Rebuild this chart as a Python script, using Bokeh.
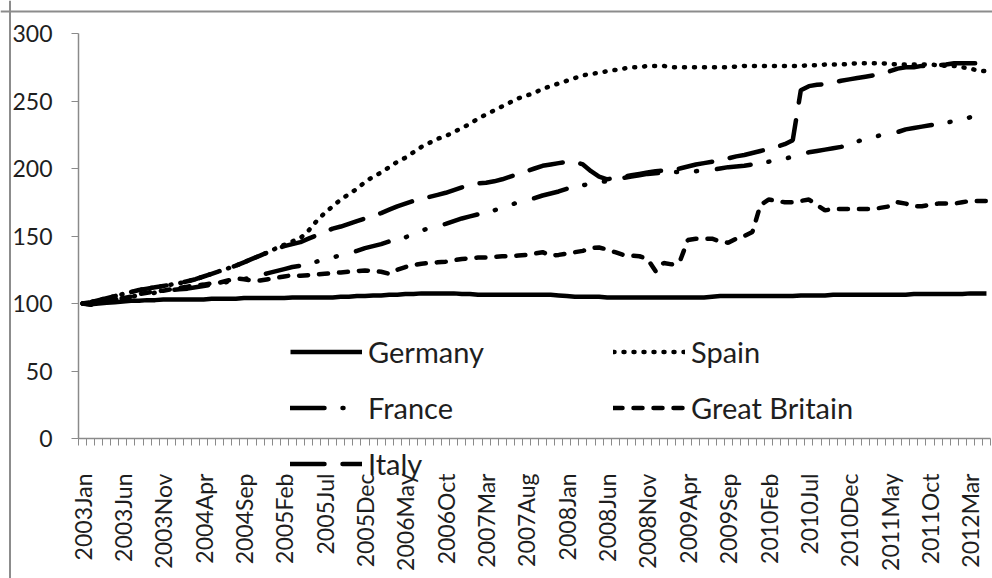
import math
from bokeh.plotting import figure
from bokeh.models import Range1d, FixedTicker, Legend, LegendItem, Span
from bokeh.embed import file_html
from bokeh.resources import INLINE

month_names = ["Jan", "Feb", "Mar", "Apr", "May", "Jun",
               "Jul", "Aug", "Sep", "Oct", "Nov", "Dec"]
months = [f"{2003 + k // 12}{month_names[k % 12]}" for k in range(113)]  # 2003Jan .. 2012May

tick_labels = ["2003Jan", "2003Jun", "2003Nov", "2004Apr", "2004Sep", "2005Feb",
               "2005Jul", "2005Dec", "2006May", "2006Oct", "2007Mar", "2007Aug",
               "2008Jan", "2008Jun", "2008Nov", "2009Apr", "2009Sep", "2010Feb",
               "2010Jul", "2010Dec", "2011May", "2011Oct", "2012Mar"]

germany = [100, 99.5, 100, 100.5, 101, 101.5, 102, 102, 102.5, 102.5,
           103, 103, 103, 103, 103, 103, 103.5, 103.5, 103.5, 103.5,
           104, 104, 104, 104, 104, 104, 104.5, 104.5, 104.5, 104.5,
           104.5, 104.5, 105, 105, 105.5, 105.5, 106, 106, 106.5, 106.5,
           107, 107, 107.5, 107.5, 107.5, 107.5, 107.5, 107, 107, 106.5,
           106.5, 106.5, 106.5, 106.5, 106.5, 106.5, 106.5, 106.5, 106.5, 106,
           105.5, 105, 105, 105, 105, 104.5, 104.5, 104.5, 104.5, 104.5,
           104.5, 104.5, 104.5, 104.5, 104.5, 104.5, 104.5, 104.5, 105, 105.5,
           105.5, 105.5, 105.5, 105.5, 105.5, 105.5, 105.5, 105.5, 105.5, 106,
           106, 106, 106, 106.5, 106.5, 106.5, 106.5, 106.5, 106.5, 106.5,
           106.5, 106.5, 106.5, 107, 107, 107, 107, 107, 107, 107,
           107.5, 107.5, 107.5]

spain = [100, 101, 102.5, 104, 105.5, 107, 108.5, 110, 111, 112,
         113, 114, 115, 116.5, 118, 120, 122, 124, 126, 128,
         130.5, 133, 135.5, 138, 141, 143.5, 146, 148.5, 154, 161,
         167, 172, 177, 181, 185, 190, 194, 197, 201, 205,
         208, 212, 216, 219, 222, 224, 227, 230, 233, 237,
         240, 243, 246, 249, 252, 254, 256, 259, 261, 263,
         265, 267, 269, 270, 271, 272, 273, 274, 275, 275,
         276, 276, 276, 275, 275, 275, 275, 275, 275, 275,
         275, 275.5, 276, 276, 276, 276, 276, 276, 276, 276,
         276.5, 276.5, 277, 277, 277, 277.5, 278, 278, 278, 278,
         277.5, 277, 277, 277, 277, 277, 276.5, 276, 276, 275,
         274, 272.5, 272]

france = [100, 100, 101, 102, 103, 104, 105, 106, 107, 108,
          109, 110, 110.5, 111, 112, 113, 114, 115, 116, 117,
          118, 119.5, 121, 122.5, 124, 125.5, 127, 128, 129.5, 131,
          133, 134, 136, 137, 139, 141, 142.5, 144, 146, 147.5,
          149, 151.5, 154, 156, 157.5, 159, 161, 163, 164.5, 166,
          167.5, 169, 171, 173, 175, 177, 178, 180, 181.5, 183,
          185, 186.5, 187.5, 189, 190, 190.5, 192, 193, 194, 195,
          196, 196.5, 197, 197.5, 197.5, 198, 198, 198.5, 199, 200,
          201, 201.5, 202, 203, 204, 205, 206, 207, 209, 211,
          212, 213, 214, 215, 216, 218, 220, 222, 223, 225,
          226, 227, 229, 230, 231, 232, 233, 234, 235, 236,
          238, 238, 239]

great_britain = [100, 99, 100, 102, 103, 104, 105, 107, 108, 109,
                 109.5, 110.5, 111.5, 112.5, 113.5, 114, 115, 115.5, 117, 118.5,
                 118, 117, 117, 118, 119, 120, 121, 120.5, 121, 121.5,
                 122, 122.5, 123, 123.5, 124, 124.5, 124, 123.5, 122, 125,
                 127, 128.5, 129.5, 130, 130.5, 131, 132, 133, 133.5, 134,
                 134, 134.5, 135, 135, 135.5, 136, 137, 138, 135.5, 136,
                 137, 138, 139, 141, 141.5, 140, 138, 136, 135.5, 135,
                 133, 124, 130, 129, 131, 147, 148, 148, 148, 146,
                 145, 148, 150, 153, 173, 177, 176, 175, 175, 176,
                 177, 173, 169, 170, 170, 170, 170, 170, 170, 171,
                 172, 175, 174, 172, 172, 173, 174, 174, 174, 175,
                 176, 176, 176]

italy = [100, 101, 102.5, 104, 105.5, 107, 108.5, 110, 111, 112,
         113, 114, 115, 116.5, 118, 120, 122, 124, 126, 128,
         130.5, 133, 135.5, 138, 140.5, 142.5, 144, 145.5, 148, 150.5,
         153, 155.5, 157, 159, 161, 163, 165, 167, 169.5, 172,
         174, 176, 177.5, 179, 180.5, 182, 184, 186, 187.5, 189,
         189.5, 190.5, 192, 194, 196, 198, 200, 202, 203, 204,
         205, 205, 203, 198, 194, 192, 193, 194, 195, 196,
         197, 198, 198.5, 199, 200, 201.5, 203, 204, 205, 206,
         207.5, 209, 210, 211.5, 213, 214.5, 216, 218, 221, 258,
         261, 262, 262.5, 263.5, 265, 266, 267, 268, 269, 270,
         272, 274, 275, 275, 276, 276, 276.5, 277, 278, 278,
         278, 278, 278]

y_ticks = [0, 50, 100, 150, 200, 250, 300]

FONT = "Lato"
TEXT = "#1e1e1e"
AXIS = "#8a8a8a"

n = len(months)
xs = list(range(n))

# layout geometry (picture pixels): the frame covers the whole canvas
W, H = 992, 578
AX_L, AX_R = 78, 990      # plot area x extent
Y300, Y0 = 33, 438        # plot area y extent
ppx = (AX_R - AX_L) / n
ppy = (Y0 - Y300) / 300.0
x0 = -0.5 - AX_L / ppx
x1 = n - 0.5 + (W - AX_R) / ppx
y1 = 300 + Y300 / ppy
y0 = -(H - Y0) / ppy

p = figure(width=W, height=H, output_backend="svg", toolbar_location=None,
           x_range=Range1d(x0, x1), y_range=Range1d(y0, y1),
           min_border_left=0, min_border_right=0, min_border_top=0,
           min_border_bottom=0, background_fill_color="white",
           border_fill_color="white")
p.outline_line_color = None
p.xgrid.visible = False
p.ygrid.visible = False

# outer chart border (top and left only, the rest is cropped in the reference)
p.add_layout(Span(location=y1 - 11 / ppy, dimension="width",
                  line_color="#8c8c8c", line_width=2))
p.add_layout(Span(location=x0 + 9.5 / ppx, dimension="height",
                  line_color="#8c8c8c", line_width=2))

# x axis drawn at y = 0 inside the frame
p.xaxis.fixed_location = 0
p.xaxis.bounds = (-0.5, n - 0.5)
p.xaxis.ticker = FixedTicker(ticks=list(range(0, n, 5)),
                             minor_ticks=[k - 0.5 for k in range(n + 1)])
p.xaxis.major_label_overrides = {i * 5: lab for i, lab in enumerate(tick_labels)}
p.xaxis.major_label_orientation = math.pi / 2
p.xaxis.major_tick_out = 0
p.xaxis.major_tick_in = 0
p.xaxis.minor_tick_out = 7
p.xaxis.minor_tick_in = 0
p.xaxis.major_label_standoff = 28
p.xaxis.major_label_text_font = FONT
p.xaxis.major_label_text_font_size = "23px"
p.xaxis.major_label_text_color = TEXT

# y axis drawn at the left edge of the plot area
p.yaxis.fixed_location = -0.5
p.yaxis.bounds = (0, 300)
p.yaxis.ticker = FixedTicker(ticks=y_ticks)
p.yaxis.major_tick_out = 7
p.yaxis.major_tick_in = 0
p.yaxis.minor_tick_out = 0
p.yaxis.minor_tick_in = 0
p.yaxis.major_label_standoff = 19
p.yaxis.major_label_text_font = FONT
p.yaxis.major_label_text_font_size = "23px"
p.yaxis.major_label_text_color = TEXT

for ax in (p.xaxis, p.yaxis):
    ax.axis_line_color = AXIS
    ax.axis_line_width = 1.5
    ax.major_tick_line_color = AXIS
    ax.minor_tick_line_color = AXIS

r_de = p.line(xs, germany, line_color="black", line_width=4.5)
r_es = p.line(xs, spain, line_color="black", line_width=4.5, line_dash="1 9",
              line_cap="round")
r_fr = p.line(xs, france, line_color="black", line_width=4.5,
              line_dash="34 18 1 19 1 20", line_cap="round")
r_gb = p.line(xs, great_britain, line_color="black", line_width=4.5,
              line_dash="9 11", line_cap="round")
r_it = p.line(xs, italy, line_color="black", line_width=4.5, line_dash="34 18",
              line_cap="round")


def make_legend(items, loc):
    leg = Legend(items=items, location=loc, orientation="vertical")
    leg.label_text_font = FONT
    leg.label_text_font_size = "29px"
    leg.label_text_color = TEXT
    leg.glyph_width = 72
    leg.glyph_height = 37
    leg.label_height = 37
    leg.label_standoff = 6
    leg.spacing = 19
    leg.padding = 0
    leg.margin = 0
    leg.border_line_color = None
    leg.background_fill_alpha = 0
    return leg


# legend rows centred at y = 352, 408, 462
leg1 = make_legend([LegendItem(label="Germany", renderers=[r_de]),
                    LegendItem(label="France", renderers=[r_fr]),
                    LegendItem(label="Italy", renderers=[r_it])],
                   (290, H - 482))
leg2 = make_legend([LegendItem(label="Spain", renderers=[r_es]),
                    LegendItem(label="Great Britain", renderers=[r_gb])],
                   (613, H - 426))
p.add_layout(leg1, "center")
p.add_layout(leg2, "center")

open("out.html", "w").write(file_html(p, INLINE))
